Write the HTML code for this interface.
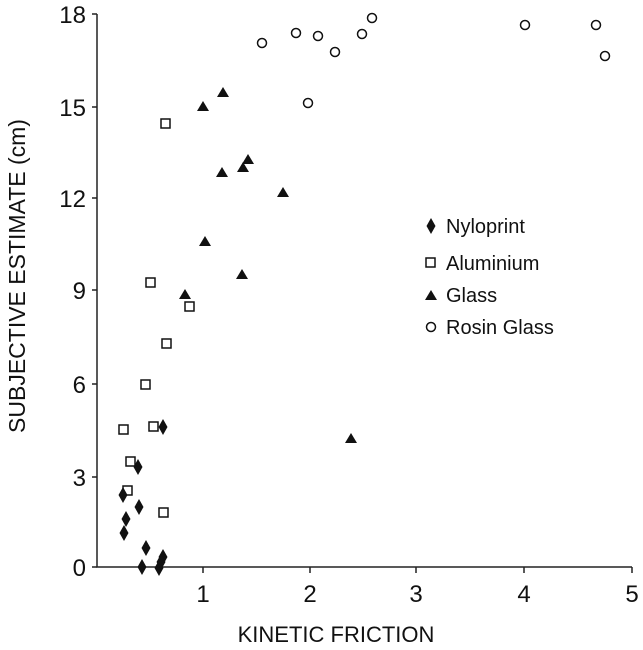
<!DOCTYPE html>
<html><head><style>body{margin:0;background:#fff}svg{display:block}text{font-family:"Liberation Sans",Arial,sans-serif;fill:#111}</style></head><body>
<svg width="643" height="650" viewBox="0 0 643 650">
<g stroke="#222" stroke-width="1.5" fill="none">
<path d="M97 14V567H632"/>
<path d="M92 14H97M92 107H97M92 198H97M92 290H97M92 384H97M92 477H97M92 567H97"/>
<path d="M203 567V573M310 567V573M416 567V573M524 567V573M632 567V573"/>
</g>
<g font-size="24" text-anchor="end">
<text x="86" y="23">18</text><text x="86" y="116">15</text><text x="86" y="207">12</text><text x="86" y="299">9</text><text x="86" y="393">6</text><text x="86" y="486">3</text><text x="86" y="576">0</text>
</g>
<g font-size="24" text-anchor="middle">
<text x="203" y="602">1</text><text x="310" y="602">2</text><text x="416" y="602">3</text><text x="524" y="602">4</text><text x="632" y="602">5</text>
</g>
<text x="336" y="642" font-size="22" text-anchor="middle">KINETIC FRICTION</text>
<text transform="translate(25,276) rotate(-90)" font-size="23" text-anchor="middle">SUBJECTIVE ESTIMATE (cm)</text>
<g fill="none" stroke="#111" stroke-width="1.5">
<circle cx="262" cy="43" r="4.5"/><circle cx="296" cy="33" r="4.5"/><circle cx="318" cy="36" r="4.5"/><circle cx="335" cy="52" r="4.5"/><circle cx="362" cy="34" r="4.5"/><circle cx="372" cy="18" r="4.5"/><circle cx="308" cy="103" r="4.5"/><circle cx="525" cy="25" r="4.5"/><circle cx="596" cy="25" r="4.5"/><circle cx="605" cy="56" r="4.5"/>
<circle cx="431" cy="327" r="4.5"/>
<rect x="161" y="119" width="9" height="9"/><rect x="146" y="278" width="9" height="9"/><rect x="185" y="302" width="9" height="9"/><rect x="162" y="339" width="9" height="9"/><rect x="141" y="380" width="9" height="9"/><rect x="119" y="425" width="9" height="9"/><rect x="149" y="422" width="9" height="9"/><rect x="126" y="457" width="9" height="9"/><rect x="123" y="486" width="9" height="9"/><rect x="159" y="508" width="9" height="9"/>
<rect x="426" y="258" width="9" height="9"/>
</g>
<g fill="#111">
<path d="M0 -6L6 4H-6Z" transform="translate(203,107)"/>
<path d="M0 -6L6 4H-6Z" transform="translate(223,93)"/><path d="M0 -6L6 4H-6Z" transform="translate(222,173)"/><path d="M0 -6L6 4H-6Z" transform="translate(243,168)"/><path d="M0 -6L6 4H-6Z" transform="translate(248,160)"/><path d="M0 -6L6 4H-6Z" transform="translate(283,193)"/><path d="M0 -6L6 4H-6Z" transform="translate(205,242)"/><path d="M0 -6L6 4H-6Z" transform="translate(185,295)"/><path d="M0 -6L6 4H-6Z" transform="translate(242,275)"/><path d="M0 -6L6 4H-6Z" transform="translate(351,439)"/><path d="M0 -6L6 4H-6Z" transform="translate(431,296)"/>
<path d="M0 -8L4.5 0L0 8L-4.5 0Z" transform="translate(163,427)"/><path d="M0 -8L4.5 0L0 8L-4.5 0Z" transform="translate(138,467)"/><path d="M0 -8L4.5 0L0 8L-4.5 0Z" transform="translate(123,495)"/><path d="M0 -8L4.5 0L0 8L-4.5 0Z" transform="translate(139,507)"/><path d="M0 -8L4.5 0L0 8L-4.5 0Z" transform="translate(126,519)"/><path d="M0 -8L4.5 0L0 8L-4.5 0Z" transform="translate(124,533)"/><path d="M0 -8L4.5 0L0 8L-4.5 0Z" transform="translate(146,548)"/><path d="M0 -8L4.5 0L0 8L-4.5 0Z" transform="translate(142,567)"/><path d="M0 -8L4.5 0L0 8L-4.5 0Z" transform="translate(159,568)"/><path d="M0 -8L4.5 0L0 8L-4.5 0Z" transform="translate(163,557)"/><path d="M0 -8L4.5 0L0 8L-4.5 0Z" transform="translate(161,562)"/>
<path d="M0 -8L4.5 0L0 8L-4.5 0Z" transform="translate(431,226)"/>
</g>
<g font-size="20">
<text x="446" y="233">Nyloprint</text><text x="446" y="270">Aluminium</text><text x="446" y="302">Glass</text><text x="446" y="334">Rosin Glass</text>
</g>
</svg>
</body></html>
